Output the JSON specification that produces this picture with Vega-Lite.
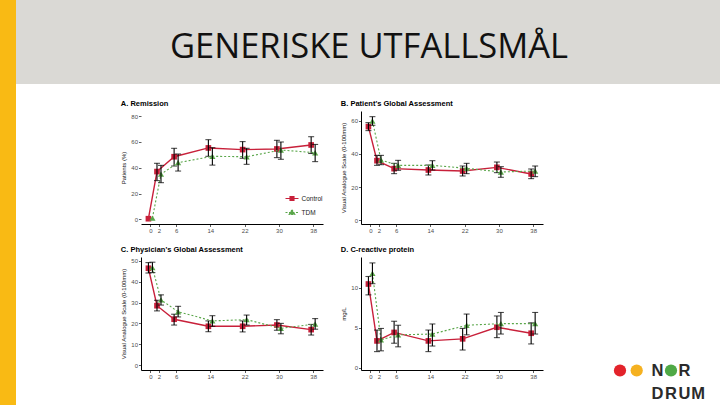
{
"$schema": "https://vega.github.io/schema/vega-lite/v6.json",
"padding": 0,
"background": "white",
"config": {
  "view": {"stroke": null},
  "font": "Liberation Sans",
  "axis": {"grid": false, "domainColor": "#000", "domainWidth": 1, "tickColor": "#333", "tickSize": 2.5, "tickWidth": 0.8, "labelFontSize": 6, "labelColor": "#4d4d4d", "labelPadding": 1, "titleFontSize": 6, "titleFontWeight": "normal", "titleColor": "#111", "titlePadding": 4, "labelOverlap": false, "labelFlush": false},
  "title": {"fontSize": 7.5, "fontWeight": "bold", "anchor": "start", "offset": 4, "color": "#000", "font": "Liberation Sans"}
},
"datasets": {
  "d": [
    {"p":"A","g":"Control","w":0,"m":0.5,"lo":null,"hi":null},
    {"p":"A","g":"Control","w":2,"m":37,"lo":30,"hi":43.4},
    {"p":"A","g":"Control","w":6,"m":48.5,"lo":41.3,"hi":55},
    {"p":"A","g":"Control","w":14,"m":55.3,"lo":48.8,"hi":61.7},
    {"p":"A","g":"Control","w":22,"m":54,"lo":47.3,"hi":60.2},
    {"p":"A","g":"Control","w":30,"m":54.5,"lo":47.8,"hi":61.2},
    {"p":"A","g":"Control","w":38,"m":57.6,"lo":51,"hi":64},
    {"p":"A","g":"TDM","w":0,"m":1,"lo":null,"hi":null},
    {"p":"A","g":"TDM","w":2,"m":35,"lo":28.4,"hi":41.8},
    {"p":"A","g":"TDM","w":6,"m":43.9,"lo":37.4,"hi":50.6},
    {"p":"A","g":"TDM","w":14,"m":48.8,"lo":42,"hi":55.5},
    {"p":"A","g":"TDM","w":22,"m":48.5,"lo":42.6,"hi":55},
    {"p":"A","g":"TDM","w":30,"m":53.7,"lo":46.5,"hi":59.9},
    {"p":"A","g":"TDM","w":38,"m":51.6,"lo":44.7,"hi":58},
    {"p":"B","g":"Control","w":0,"m":56.4,"lo":54,"hi":58.8},
    {"p":"B","g":"Control","w":2,"m":35.9,"lo":33.1,"hi":39.1},
    {"p":"B","g":"Control","w":6,"m":31.1,"lo":28.1,"hi":34.3},
    {"p":"B","g":"Control","w":14,"m":30.3,"lo":27.3,"hi":33.3},
    {"p":"B","g":"Control","w":22,"m":29.7,"lo":26.7,"hi":32.7},
    {"p":"B","g":"Control","w":30,"m":31.9,"lo":28.7,"hi":35.1},
    {"p":"B","g":"Control","w":38,"m":27.9,"lo":25.1,"hi":30.9},
    {"p":"B","g":"TDM","w":0,"m":59.8,"lo":57.2,"hi":62.4},
    {"p":"B","g":"TDM","w":2,"m":36.3,"lo":33.5,"hi":39.1},
    {"p":"B","g":"TDM","w":6,"m":33.1,"lo":30.1,"hi":36.1},
    {"p":"B","g":"TDM","w":14,"m":33.1,"lo":30.3,"hi":35.9},
    {"p":"B","g":"TDM","w":22,"m":31.3,"lo":28.1,"hi":34.3},
    {"p":"B","g":"TDM","w":30,"m":29.1,"lo":25.9,"hi":32.3},
    {"p":"B","g":"TDM","w":38,"m":29.7,"lo":26.3,"hi":32.7},
    {"p":"C","g":"Control","w":0,"m":46.5,"lo":44.2,"hi":49.2},
    {"p":"C","g":"Control","w":2,"m":28.5,"lo":26,"hi":31.1},
    {"p":"C","g":"Control","w":6,"m":22,"lo":19.2,"hi":24.4},
    {"p":"C","g":"Control","w":14,"m":18.6,"lo":16,"hi":21.2},
    {"p":"C","g":"Control","w":22,"m":18.6,"lo":15.9,"hi":21.2},
    {"p":"C","g":"Control","w":30,"m":19.2,"lo":16.7,"hi":21.8},
    {"p":"C","g":"Control","w":38,"m":17,"lo":14.4,"hi":19.5},
    {"p":"C","g":"TDM","w":0,"m":46.8,"lo":44.4,"hi":49.4},
    {"p":"C","g":"TDM","w":2,"m":31.3,"lo":28.8,"hi":33.7},
    {"p":"C","g":"TDM","w":6,"m":25.6,"lo":23.1,"hi":28.2},
    {"p":"C","g":"TDM","w":14,"m":21.2,"lo":18.6,"hi":23.7},
    {"p":"C","g":"TDM","w":22,"m":21.8,"lo":19.2,"hi":24},
    {"p":"C","g":"TDM","w":30,"m":17.6,"lo":15,"hi":20},
    {"p":"C","g":"TDM","w":38,"m":19.7,"lo":17.2,"hi":22.3},
    {"p":"D","g":"Control","w":0,"m":10.46,"lo":9.1,"hi":11.4},
    {"p":"D","g":"Control","w":2,"m":3.34,"lo":2,"hi":4.7},
    {"p":"D","g":"Control","w":6,"m":4.4,"lo":3.05,"hi":5.8},
    {"p":"D","g":"Control","w":14,"m":3.34,"lo":2,"hi":4.7},
    {"p":"D","g":"Control","w":22,"m":3.6,"lo":2.2,"hi":4.9},
    {"p":"D","g":"Control","w":30,"m":5.05,"lo":3.75,"hi":6.46},
    {"p":"D","g":"Control","w":38,"m":4.3,"lo":2.96,"hi":5.6},
    {"p":"D","g":"TDM","w":0,"m":11.8,"lo":10.5,"hi":13.1},
    {"p":"D","g":"TDM","w":2,"m":3.46,"lo":2.1,"hi":4.9},
    {"p":"D","g":"TDM","w":6,"m":4.1,"lo":2.6,"hi":5.3},
    {"p":"D","g":"TDM","w":14,"m":4.2,"lo":2.7,"hi":5.46},
    {"p":"D","g":"TDM","w":22,"m":5.3,"lo":4.1,"hi":6.7},
    {"p":"D","g":"TDM","w":30,"m":5.5,"lo":4.2,"hi":6.9},
    {"p":"D","g":"TDM","w":38,"m":5.5,"lo":4.2,"hi":6.9}
  ]
},
"spacing": 0,
"bounds": "flush",
"hconcat": [
  {"width": 16, "height": 405, "view": {"fill": "#F9BA14", "stroke": null}, "data": {"values": []}, "mark": "point", "encoding": {}},
  {"spacing": 0, "bounds": "flush", "vconcat": [
    {"width": 704, "height": 84, "view": {"fill": "#DAD9D5", "stroke": null},
     "data": {"values": [{"t": "GENERISKE UTFALLSMÅL"}]},
     "mark": {"type": "text", "font": "Open Sans", "fontSize": 34.5, "color": "#111", "align": "center", "baseline": "middle", "dx": 1, "dy": 6},
     "encoding": {"text": {"field": "t"}}},
    {"spacing": 0, "bounds": "flush",
     "hconcat": [
      {"width": 125, "height": 1, "data": {"values": []}, "mark": "point", "encoding": {}},
      {"spacing": 0, "bounds": "flush", "vconcat": [
        {"width": 1, "height": 27, "data": {"values": []}, "mark": "point", "encoding": {}},
        {"columns": 2, "spacing": {"row": 33, "column": 38}, "bounds": "flush",
         "resolve": {"scale": {"fill": "independent", "stroke": "independent", "shape": "independent", "strokeDash": "independent"}},
         "concat": [
          {"width": 182, "height": 113, "title": {"text": "A. Remission"},
           "data": {"name": "d"}, "transform": [{"filter": "datum.p === 'A'"}],
           "encoding": {"x": {"field": "w", "type": "quantitative", "title": null, "scale": {"domain": [-2.2, 40.3], "nice": false, "zero": false}, "axis": {"values": [0, 2, 6, 14, 22, 30, 38]}}},
           "layer": [
            {"transform": [{"filter": "datum.g === 'Control'"}], "layer": [
              {"mark": {"type": "line", "color": "#C8203A", "strokeWidth": 1.4, "xOffset": -2},
               "encoding": {"y": {"field": "m", "type": "quantitative", "title": "Patients (%)", "scale": {"domain": [-3.6, 83.9], "nice": false, "zero": false}, "axis": {"values": [0, 20, 40, 60, 80], "domain": false}}}},
              {"mark": {"type": "point", "filled": true, "opacity": 1, "size": 32, "shape": "square", "color": "#C8203A", "xOffset": -2},
               "encoding": {"y": {"field": "m", "type": "quantitative", "title": "Patients (%)", "scale": {"domain": [-3.6, 83.9], "nice": false, "zero": false}, "axis": {"values": [0, 20, 40, 60, 80], "domain": false}}}},
              {"mark": {"type": "rule", "color": "#000", "strokeWidth": 1.1, "xOffset": -2},
               "encoding": {"y": {"field": "lo", "type": "quantitative", "title": "Patients (%)", "scale": {"domain": [-3.6, 83.9], "nice": false, "zero": false}, "axis": {"values": [0, 20, 40, 60, 80], "domain": false}}, "y2": {"field": "hi"}}},
              {"mark": {"type": "tick", "orient": "horizontal", "color": "#000", "size": 6, "thickness": 1.1, "xOffset": -2},
               "encoding": {"y": {"field": "lo", "type": "quantitative", "title": "Patients (%)", "scale": {"domain": [-3.6, 83.9], "nice": false, "zero": false}, "axis": {"values": [0, 20, 40, 60, 80], "domain": false}}}},
              {"mark": {"type": "tick", "orient": "horizontal", "color": "#000", "size": 6, "thickness": 1.1, "xOffset": -2},
               "encoding": {"y": {"field": "hi", "type": "quantitative", "title": "Patients (%)", "scale": {"domain": [-3.6, 83.9], "nice": false, "zero": false}, "axis": {"values": [0, 20, 40, 60, 80], "domain": false}}}}
            ]},
            {"transform": [{"filter": "datum.g === 'TDM'"}], "layer": [
              {"mark": {"type": "line", "color": "#5AA64A", "strokeWidth": 1.1, "strokeDash": [2, 2], "xOffset": 2},
               "encoding": {"y": {"field": "m", "type": "quantitative", "title": "Patients (%)", "scale": {"domain": [-3.6, 83.9], "nice": false, "zero": false}, "axis": {"values": [0, 20, 40, 60, 80], "domain": false}}}},
              {"mark": {"type": "point", "filled": true, "opacity": 1, "size": 38, "shape": "triangle-up", "color": "#5AA64A", "xOffset": 2},
               "encoding": {"y": {"field": "m", "type": "quantitative", "title": "Patients (%)", "scale": {"domain": [-3.6, 83.9], "nice": false, "zero": false}, "axis": {"values": [0, 20, 40, 60, 80], "domain": false}}}},
              {"mark": {"type": "rule", "color": "#000", "strokeWidth": 1.1, "xOffset": 2},
               "encoding": {"y": {"field": "lo", "type": "quantitative", "title": "Patients (%)", "scale": {"domain": [-3.6, 83.9], "nice": false, "zero": false}, "axis": {"values": [0, 20, 40, 60, 80], "domain": false}}, "y2": {"field": "hi"}}},
              {"mark": {"type": "tick", "orient": "horizontal", "color": "#000", "size": 6, "thickness": 1.1, "xOffset": 2},
               "encoding": {"y": {"field": "lo", "type": "quantitative", "title": "Patients (%)", "scale": {"domain": [-3.6, 83.9], "nice": false, "zero": false}, "axis": {"values": [0, 20, 40, 60, 80], "domain": false}}}},
              {"mark": {"type": "tick", "orient": "horizontal", "color": "#000", "size": 6, "thickness": 1.1, "xOffset": 2},
               "encoding": {"y": {"field": "hi", "type": "quantitative", "title": "Patients (%)", "scale": {"domain": [-3.6, 83.9], "nice": false, "zero": false}, "axis": {"values": [0, 20, 40, 60, 80], "domain": false}}}}
            ]},
            {"transform": [{"filter": "datum.w < -100"}],
             "mark": {"type": "point", "filled": true, "opacity": 1, "strokeWidth": 1.2},
             "encoding": {
               "y": {"field": "m", "type": "quantitative", "title": "Patients (%)", "scale": {"domain": [-3.6, 83.9], "nice": false, "zero": false}, "axis": {"values": [0, 20, 40, 60, 80], "domain": false}},
               "fill": {"field": "g", "type": "nominal", "scale": {"domain": ["Control", "TDM"], "range": ["#C8203A", "#5AA64A"]},
                 "legend": {"title": null, "orient": "none", "legendX": 143.5, "legendY": 80, "symbolSize": 169, "symbolStrokeWidth": 1.2, "labelFontSize": 6.5, "labelColor": "#222", "rowPadding": 2, "padding": 0, "labelOffset": 2}},
               "stroke": {"field": "g", "type": "nominal", "scale": {"domain": ["Control", "TDM"], "range": ["#C8203A", "#5AA64A"]},
                 "legend": {"title": null, "orient": "none", "legendX": 143.5, "legendY": 80, "symbolSize": 169, "symbolStrokeWidth": 1.2, "labelFontSize": 6.5, "labelColor": "#222", "rowPadding": 2, "padding": 0, "labelOffset": 2}},
               "shape": {"field": "g", "type": "nominal", "scale": {"domain": ["Control", "TDM"], "range": ["M-1,0H1M-0.3,-0.3H0.3V0.3H-0.3Z", "M-1,0H1M0,-0.42L0.42,0.3H-0.42Z"]},
                 "legend": {"title": null, "orient": "none", "legendX": 143.5, "legendY": 80, "symbolSize": 169, "symbolStrokeWidth": 1.2, "labelFontSize": 6.5, "labelColor": "#222", "rowPadding": 2, "padding": 0, "labelOffset": 2}},
               "strokeDash": {"field": "g", "type": "nominal", "scale": {"domain": ["Control", "TDM"], "range": [[1, 0], [2, 1.5]]},
                 "legend": {"title": null, "orient": "none", "legendX": 143.5, "legendY": 80, "symbolSize": 169, "symbolStrokeWidth": 1.2, "labelFontSize": 6.5, "labelColor": "#222", "rowPadding": 2, "padding": 0, "labelOffset": 2}}}}
           ]},
          {"width": 182, "height": 113, "title": {"text": "B. Patient's Global Assessment"},
           "data": {"name": "d"}, "transform": [{"filter": "datum.p === 'B'"}],
           "encoding": {"x": {"field": "w", "type": "quantitative", "title": null, "scale": {"domain": [-2.2, 40.3], "nice": false, "zero": false}, "axis": {"values": [0, 2, 6, 14, 22, 30, 38]}}},
           "layer": [
            {"transform": [{"filter": "datum.g === 'Control'"}], "layer": [
              {"mark": {"type": "line", "color": "#C8203A", "strokeWidth": 1.4, "xOffset": -2},
               "encoding": {"y": {"field": "m", "type": "quantitative", "title": "Visual Analogue Scale (0-100mm)", "scale": {"domain": [-2.2, 65.8], "nice": false, "zero": false}, "axis": {"values": [0, 20, 40, 60]}}}},
              {"mark": {"type": "point", "filled": true, "opacity": 1, "size": 32, "shape": "square", "color": "#C8203A", "xOffset": -2},
               "encoding": {"y": {"field": "m", "type": "quantitative", "title": "Visual Analogue Scale (0-100mm)", "scale": {"domain": [-2.2, 65.8], "nice": false, "zero": false}, "axis": {"values": [0, 20, 40, 60]}}}},
              {"mark": {"type": "rule", "color": "#000", "strokeWidth": 1.1, "xOffset": -2},
               "encoding": {"y": {"field": "lo", "type": "quantitative", "title": "Visual Analogue Scale (0-100mm)", "scale": {"domain": [-2.2, 65.8], "nice": false, "zero": false}, "axis": {"values": [0, 20, 40, 60]}}, "y2": {"field": "hi"}}},
              {"mark": {"type": "tick", "orient": "horizontal", "color": "#000", "size": 6, "thickness": 1.1, "xOffset": -2},
               "encoding": {"y": {"field": "lo", "type": "quantitative", "title": "Visual Analogue Scale (0-100mm)", "scale": {"domain": [-2.2, 65.8], "nice": false, "zero": false}, "axis": {"values": [0, 20, 40, 60]}}}},
              {"mark": {"type": "tick", "orient": "horizontal", "color": "#000", "size": 6, "thickness": 1.1, "xOffset": -2},
               "encoding": {"y": {"field": "hi", "type": "quantitative", "title": "Visual Analogue Scale (0-100mm)", "scale": {"domain": [-2.2, 65.8], "nice": false, "zero": false}, "axis": {"values": [0, 20, 40, 60]}}}}
            ]},
            {"transform": [{"filter": "datum.g === 'TDM'"}], "layer": [
              {"mark": {"type": "line", "color": "#5AA64A", "strokeWidth": 1.1, "strokeDash": [2, 2], "xOffset": 2},
               "encoding": {"y": {"field": "m", "type": "quantitative", "title": "Visual Analogue Scale (0-100mm)", "scale": {"domain": [-2.2, 65.8], "nice": false, "zero": false}, "axis": {"values": [0, 20, 40, 60]}}}},
              {"mark": {"type": "point", "filled": true, "opacity": 1, "size": 38, "shape": "triangle-up", "color": "#5AA64A", "xOffset": 2},
               "encoding": {"y": {"field": "m", "type": "quantitative", "title": "Visual Analogue Scale (0-100mm)", "scale": {"domain": [-2.2, 65.8], "nice": false, "zero": false}, "axis": {"values": [0, 20, 40, 60]}}}},
              {"mark": {"type": "rule", "color": "#000", "strokeWidth": 1.1, "xOffset": 2},
               "encoding": {"y": {"field": "lo", "type": "quantitative", "title": "Visual Analogue Scale (0-100mm)", "scale": {"domain": [-2.2, 65.8], "nice": false, "zero": false}, "axis": {"values": [0, 20, 40, 60]}}, "y2": {"field": "hi"}}},
              {"mark": {"type": "tick", "orient": "horizontal", "color": "#000", "size": 6, "thickness": 1.1, "xOffset": 2},
               "encoding": {"y": {"field": "lo", "type": "quantitative", "title": "Visual Analogue Scale (0-100mm)", "scale": {"domain": [-2.2, 65.8], "nice": false, "zero": false}, "axis": {"values": [0, 20, 40, 60]}}}},
              {"mark": {"type": "tick", "orient": "horizontal", "color": "#000", "size": 6, "thickness": 1.1, "xOffset": 2},
               "encoding": {"y": {"field": "hi", "type": "quantitative", "title": "Visual Analogue Scale (0-100mm)", "scale": {"domain": [-2.2, 65.8], "nice": false, "zero": false}, "axis": {"values": [0, 20, 40, 60]}}}}
            ]}
           ]},
          {"width": 182, "height": 113, "title": {"text": "C. Physician's Global Assessment"},
           "data": {"name": "d"}, "transform": [{"filter": "datum.p === 'C'"}],
           "encoding": {"x": {"field": "w", "type": "quantitative", "title": null, "scale": {"domain": [-2.2, 40.3], "nice": false, "zero": false}, "axis": {"values": [0, 2, 6, 14, 22, 30, 38]}}},
           "layer": [
            {"transform": [{"filter": "datum.g === 'Control'"}], "layer": [
              {"mark": {"type": "line", "color": "#C8203A", "strokeWidth": 1.4, "xOffset": -2},
               "encoding": {"y": {"field": "m", "type": "quantitative", "title": "Visual Analogue Scale (0-100mm)", "scale": {"domain": [-2.4, 51.9], "nice": false, "zero": false}, "axis": {"values": [0, 10, 20, 30, 40, 50]}}}},
              {"mark": {"type": "point", "filled": true, "opacity": 1, "size": 32, "shape": "square", "color": "#C8203A", "xOffset": -2},
               "encoding": {"y": {"field": "m", "type": "quantitative", "title": "Visual Analogue Scale (0-100mm)", "scale": {"domain": [-2.4, 51.9], "nice": false, "zero": false}, "axis": {"values": [0, 10, 20, 30, 40, 50]}}}},
              {"mark": {"type": "rule", "color": "#000", "strokeWidth": 1.1, "xOffset": -2},
               "encoding": {"y": {"field": "lo", "type": "quantitative", "title": "Visual Analogue Scale (0-100mm)", "scale": {"domain": [-2.4, 51.9], "nice": false, "zero": false}, "axis": {"values": [0, 10, 20, 30, 40, 50]}}, "y2": {"field": "hi"}}},
              {"mark": {"type": "tick", "orient": "horizontal", "color": "#000", "size": 6, "thickness": 1.1, "xOffset": -2},
               "encoding": {"y": {"field": "lo", "type": "quantitative", "title": "Visual Analogue Scale (0-100mm)", "scale": {"domain": [-2.4, 51.9], "nice": false, "zero": false}, "axis": {"values": [0, 10, 20, 30, 40, 50]}}}},
              {"mark": {"type": "tick", "orient": "horizontal", "color": "#000", "size": 6, "thickness": 1.1, "xOffset": -2},
               "encoding": {"y": {"field": "hi", "type": "quantitative", "title": "Visual Analogue Scale (0-100mm)", "scale": {"domain": [-2.4, 51.9], "nice": false, "zero": false}, "axis": {"values": [0, 10, 20, 30, 40, 50]}}}}
            ]},
            {"transform": [{"filter": "datum.g === 'TDM'"}], "layer": [
              {"mark": {"type": "line", "color": "#5AA64A", "strokeWidth": 1.1, "strokeDash": [2, 2], "xOffset": 2},
               "encoding": {"y": {"field": "m", "type": "quantitative", "title": "Visual Analogue Scale (0-100mm)", "scale": {"domain": [-2.4, 51.9], "nice": false, "zero": false}, "axis": {"values": [0, 10, 20, 30, 40, 50]}}}},
              {"mark": {"type": "point", "filled": true, "opacity": 1, "size": 38, "shape": "triangle-up", "color": "#5AA64A", "xOffset": 2},
               "encoding": {"y": {"field": "m", "type": "quantitative", "title": "Visual Analogue Scale (0-100mm)", "scale": {"domain": [-2.4, 51.9], "nice": false, "zero": false}, "axis": {"values": [0, 10, 20, 30, 40, 50]}}}},
              {"mark": {"type": "rule", "color": "#000", "strokeWidth": 1.1, "xOffset": 2},
               "encoding": {"y": {"field": "lo", "type": "quantitative", "title": "Visual Analogue Scale (0-100mm)", "scale": {"domain": [-2.4, 51.9], "nice": false, "zero": false}, "axis": {"values": [0, 10, 20, 30, 40, 50]}}, "y2": {"field": "hi"}}},
              {"mark": {"type": "tick", "orient": "horizontal", "color": "#000", "size": 6, "thickness": 1.1, "xOffset": 2},
               "encoding": {"y": {"field": "lo", "type": "quantitative", "title": "Visual Analogue Scale (0-100mm)", "scale": {"domain": [-2.4, 51.9], "nice": false, "zero": false}, "axis": {"values": [0, 10, 20, 30, 40, 50]}}}},
              {"mark": {"type": "tick", "orient": "horizontal", "color": "#000", "size": 6, "thickness": 1.1, "xOffset": 2},
               "encoding": {"y": {"field": "hi", "type": "quantitative", "title": "Visual Analogue Scale (0-100mm)", "scale": {"domain": [-2.4, 51.9], "nice": false, "zero": false}, "axis": {"values": [0, 10, 20, 30, 40, 50]}}}}
            ]}
           ]},
          {"width": 182, "height": 113, "title": {"text": "D. C-reactive protein"},
           "data": {"name": "d"}, "transform": [{"filter": "datum.p === 'D'"}],
           "encoding": {"x": {"field": "w", "type": "quantitative", "title": null, "scale": {"domain": [-2.2, 40.3], "nice": false, "zero": false}, "axis": {"values": [0, 2, 6, 14, 22, 30, 38]}}},
           "layer": [
            {"transform": [{"filter": "datum.g === 'Control'"}], "layer": [
              {"mark": {"type": "line", "color": "#C8203A", "strokeWidth": 1.4, "xOffset": -2},
               "encoding": {"y": {"field": "m", "type": "quantitative", "title": "mg/L", "scale": {"domain": [-0.3, 13.84], "nice": false, "zero": false}, "axis": {"values": [0, 5, 10]}}}},
              {"mark": {"type": "point", "filled": true, "opacity": 1, "size": 32, "shape": "square", "color": "#C8203A", "xOffset": -2},
               "encoding": {"y": {"field": "m", "type": "quantitative", "title": "mg/L", "scale": {"domain": [-0.3, 13.84], "nice": false, "zero": false}, "axis": {"values": [0, 5, 10]}}}},
              {"mark": {"type": "rule", "color": "#000", "strokeWidth": 1.1, "xOffset": -2},
               "encoding": {"y": {"field": "lo", "type": "quantitative", "title": "mg/L", "scale": {"domain": [-0.3, 13.84], "nice": false, "zero": false}, "axis": {"values": [0, 5, 10]}}, "y2": {"field": "hi"}}},
              {"mark": {"type": "tick", "orient": "horizontal", "color": "#000", "size": 6, "thickness": 1.1, "xOffset": -2},
               "encoding": {"y": {"field": "lo", "type": "quantitative", "title": "mg/L", "scale": {"domain": [-0.3, 13.84], "nice": false, "zero": false}, "axis": {"values": [0, 5, 10]}}}},
              {"mark": {"type": "tick", "orient": "horizontal", "color": "#000", "size": 6, "thickness": 1.1, "xOffset": -2},
               "encoding": {"y": {"field": "hi", "type": "quantitative", "title": "mg/L", "scale": {"domain": [-0.3, 13.84], "nice": false, "zero": false}, "axis": {"values": [0, 5, 10]}}}}
            ]},
            {"transform": [{"filter": "datum.g === 'TDM'"}], "layer": [
              {"mark": {"type": "line", "color": "#5AA64A", "strokeWidth": 1.1, "strokeDash": [2, 2], "xOffset": 2},
               "encoding": {"y": {"field": "m", "type": "quantitative", "title": "mg/L", "scale": {"domain": [-0.3, 13.84], "nice": false, "zero": false}, "axis": {"values": [0, 5, 10]}}}},
              {"mark": {"type": "point", "filled": true, "opacity": 1, "size": 38, "shape": "triangle-up", "color": "#5AA64A", "xOffset": 2},
               "encoding": {"y": {"field": "m", "type": "quantitative", "title": "mg/L", "scale": {"domain": [-0.3, 13.84], "nice": false, "zero": false}, "axis": {"values": [0, 5, 10]}}}},
              {"mark": {"type": "rule", "color": "#000", "strokeWidth": 1.1, "xOffset": 2},
               "encoding": {"y": {"field": "lo", "type": "quantitative", "title": "mg/L", "scale": {"domain": [-0.3, 13.84], "nice": false, "zero": false}, "axis": {"values": [0, 5, 10]}}, "y2": {"field": "hi"}}},
              {"mark": {"type": "tick", "orient": "horizontal", "color": "#000", "size": 6, "thickness": 1.1, "xOffset": 2},
               "encoding": {"y": {"field": "lo", "type": "quantitative", "title": "mg/L", "scale": {"domain": [-0.3, 13.84], "nice": false, "zero": false}, "axis": {"values": [0, 5, 10]}}}},
              {"mark": {"type": "tick", "orient": "horizontal", "color": "#000", "size": 6, "thickness": 1.1, "xOffset": 2},
               "encoding": {"y": {"field": "hi", "type": "quantitative", "title": "mg/L", "scale": {"domain": [-0.3, 13.84], "nice": false, "zero": false}, "axis": {"values": [0, 5, 10]}}}}
            ]}
           ]}
         ]}
      ]},
      {"width": 572, "height": 319,
       "resolve": {"scale": {"x": "independent"}},
       "layer": [
        {"data": {"values": [{"dot": "a", "row": "1"}, {"dot": "b", "row": "1"}]},
         "mark": {"type": "point", "filled": true, "opacity": 1, "size": 150, "shape": "circle"},
         "encoding": {
           "x": {"field": "dot", "type": "nominal", "scale": {"type": "point", "padding": 0, "domain": ["a", "b"], "range": [479, 495.7]}, "axis": null},
           "y": {"field": "row", "type": "ordinal", "scale": {"type": "point", "padding": 0, "domain": ["1", "2"], "range": [286.5, 310]}, "axis": null},
           "color": {"field": "dot", "type": "nominal", "scale": {"domain": ["a", "b"], "range": ["#E3232B", "#F5B120"]}, "legend": null}}},
        {"data": {"values": [{"col": "2", "row": "1"}]},
         "mark": {"type": "point", "filled": true, "opacity": 1, "size": 150, "shape": "circle", "color": "#4FA946"},
         "encoding": {
           "x": {"field": "col", "type": "ordinal", "scale": {"type": "point", "padding": 0, "domain": ["1", "2", "3", "4"], "range": [516.5, 557]}, "axis": null},
           "y": {"field": "row", "type": "ordinal", "scale": {"type": "point", "padding": 0, "domain": ["1", "2"], "range": [286.5, 310]}, "axis": null}}},
        {"data": {"values": [{"L": "N", "col": "1", "row": "1"}, {"L": "R", "col": "3", "row": "1"}, {"L": "D", "col": "1", "row": "2"}, {"L": "R", "col": "2", "row": "2"}, {"L": "U", "col": "3", "row": "2"}, {"L": "M", "col": "4", "row": "2"}]},
         "mark": {"type": "text", "font": "Liberation Sans", "fontWeight": "bold", "fontSize": 16.5, "color": "#2B2B2B", "align": "center", "baseline": "middle"},
         "encoding": {
           "x": {"field": "col", "type": "ordinal", "scale": {"type": "point", "padding": 0, "domain": ["1", "2", "3", "4"], "range": [516.5, 557]}, "axis": null},
           "y": {"field": "row", "type": "ordinal", "scale": {"type": "point", "padding": 0, "domain": ["1", "2"], "range": [286.5, 310]}, "axis": null},
           "text": {"field": "L"}}}
       ]}
    ]}
  ]}
]
}
